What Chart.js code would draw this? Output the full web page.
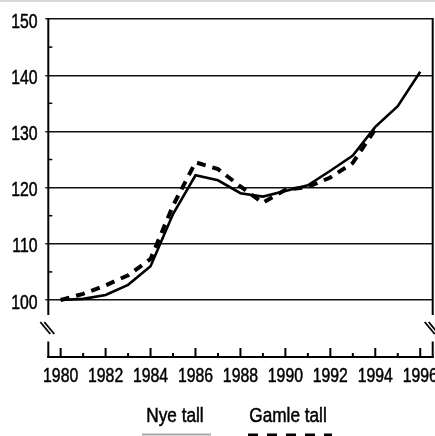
<!DOCTYPE html>
<html>
<head>
<meta charset="utf-8">
<script src="https://cdn.jsdelivr.net/npm/chart.js@4.4.1/dist/chart.umd.min.js"></script>
<style>
  html, body { margin: 0; padding: 0; background: #fff; }
  #wrap { width: 435px; height: 436px; position: relative; }
</style>
</head>
<body>
<div id="wrap"><canvas id="chart"></canvas></div>
<script>
const FONT = "'Liberation Sans', Arial, sans-serif";
const NARROW_DIGITS = 0.79; // squeeze text horizontally like a narrow face
const NARROW_WORDS = 0.86;

// Data
const years = [1980, 1981, 1982, 1983, 1984, 1985, 1986, 1987, 1988, 1989, 1990, 1991, 1992, 1993, 1994, 1995, 1996];
const nyeTall = [100, 100.2, 100.9, 102.7, 106, 115.3, 122.2, 121.3, 119, 118.4, 119.4, 120.4, 123, 125.7, 130.8, 134.5, 140.6];
const gamleTall = [100, 101.1, 102.6, 104.4, 107.3, 116.8, 124.5, 123.3, 120.2, 117.3, 119.6, 120.1, 121.8, 124.4, 130.4, null, null];
const yTicks = [100, 110, 120, 130, 140, 150];
const yMinorTicks = [105, 115, 125, 135, 145];
const xLabels = [1980, 1982, 1984, 1986, 1988, 1990, 1992, 1994, 1996];
const legendLabels = ['Nye tall', 'Gamle tall'];

const toPoints = vals => years.map((y, i) => ({ x: y, y: vals[i] }));

function narrowText(ctx, text, x, y, align, squeeze) {
    ctx.save();
    ctx.translate(x, y);
    ctx.scale(squeeze, 1);
    ctx.textAlign = align;
    ctx.lineWidth = 0.5;
    ctx.strokeStyle = '#000';
    ctx.fillText(text, 0, 0);
    ctx.strokeText(text, 0, 0);
    ctx.restore();
}

// Broken axis, ticks, labels and legend drawn on top of the chart
const extras = {
    id: 'extras',
    beforeDraw(chart) {
        const ctx = chart.ctx;
        ctx.save();
        ctx.fillStyle = '#d8d8d8';
        ctx.fillRect(0, 0, chart.width, 2);
        ctx.restore();
    },
    afterDraw(chart) {
        const { ctx, chartArea: a, scales: { x, y } } = chart;
        const breakTop = 315, breakBottom = 341.5;
        ctx.save();
        ctx.strokeStyle = '#000';
        ctx.lineWidth = 2;
        ctx.lineCap = 'butt';

        // axis segments either side of the break
        [a.left, a.right].forEach(px => {
            ctx.beginPath();
            ctx.moveTo(px, a.top - 1);
            ctx.lineTo(px, breakTop);
            ctx.stroke();
            ctx.beginPath();
            ctx.moveTo(px, breakBottom);
            ctx.lineTo(px, a.bottom + 1);
            ctx.stroke();
        });

        // break marks
        ctx.lineWidth = 1.8;
        [a.left, a.right].forEach(px => {
            [-3, 1].forEach(off => {
                ctx.beginPath();
                ctx.moveTo(px - 5 + off, 322);
                ctx.lineTo(px + 5 + off, 334);
                ctx.stroke();
            });
        });

        // minor y ticks
        ctx.lineWidth = 1.5;
        yMinorTicks.forEach(v => {
            const py = y.getPixelForValue(v);
            ctx.beginPath();
            ctx.moveTo(a.left, py);
            ctx.lineTo(a.left + 4, py);
            ctx.stroke();
        });

        // x axis
        ctx.lineWidth = 2;
        ctx.beginPath();
        ctx.moveTo(a.left - 1, a.bottom);
        ctx.lineTo(a.right + 1, a.bottom);
        ctx.stroke();
        years.forEach(yr => {
            const px = x.getPixelForValue(yr);
            const len = yr % 2 === 0 ? 9 : 4;
            ctx.beginPath();
            ctx.moveTo(px, a.bottom);
            ctx.lineTo(px, a.bottom - len);
            ctx.stroke();
        });

        ctx.fillStyle = '#000';
        ctx.font = '20px ' + FONT;
        ctx.textBaseline = 'alphabetic';
        yTicks.forEach(v => {
            narrowText(ctx, String(v), 37.5, y.getPixelForValue(v) + 8.5, 'right', NARROW_DIGITS);
        });
        xLabels.forEach(yr => {
            narrowText(ctx, String(yr), x.getPixelForValue(yr), 382, 'center', NARROW_DIGITS);
        });

        // legend
        narrowText(ctx, legendLabels[0], 175, 422, 'center', NARROW_WORDS);
        narrowText(ctx, legendLabels[1], 288, 422, 'center', NARROW_WORDS);
        ctx.strokeStyle = '#a8a8a8';
        ctx.lineWidth = 2;
        ctx.beginPath();
        ctx.moveTo(142, 434.5);
        ctx.lineTo(211, 434.5);
        ctx.stroke();
        ctx.strokeStyle = '#000';
        ctx.lineWidth = 4;
        ctx.setLineDash([10, 9]);
        ctx.beginPath();
        ctx.moveTo(248, 435.5);
        ctx.lineTo(332, 435.5);
        ctx.stroke();
        ctx.restore();
    }
};

new Chart(document.getElementById('chart'), {
    type: 'line',
    data: {
        datasets: [{
            label: legendLabels[0],
            data: toPoints(nyeTall),
            borderColor: '#000',
            borderWidth: 2.6,
            pointRadius: 0,
            tension: 0,
            fill: false
        }, {
            label: legendLabels[1],
            data: toPoints(gamleTall),
            borderColor: '#000',
            borderWidth: 4,
            borderDash: [9, 7],
            pointRadius: 0,
            tension: 0,
            fill: false,
            spanGaps: false
        }]
    },
    options: {
        responsive: true,
        maintainAspectRatio: false,
        animation: false,
        events: [],
        layout: { padding: { left: 0, top: 19, right: 2.3, bottom: 79 } },
        plugins: {
            legend: { display: false },
            tooltip: { enabled: false }
        },
        scales: {
            x: {
                type: 'linear',
                min: 1979.45,
                max: 1996.555,
                display: false
            },
            y: {
                min: 89.86,
                max: 150,
                afterBuildTicks: scale => { scale.ticks = yTicks.map(v => ({ value: v })); },
                afterFit: scale => { scale.width = 48.3; },
                border: { display: false },
                grid: {
                    color: '#111',
                    lineWidth: 1.4,
                    tickLength: 3,
                    drawTicks: true
                },
                ticks: { display: false }
            }
        }
    },
    plugins: [extras]
});
</script>
</body>
</html>
